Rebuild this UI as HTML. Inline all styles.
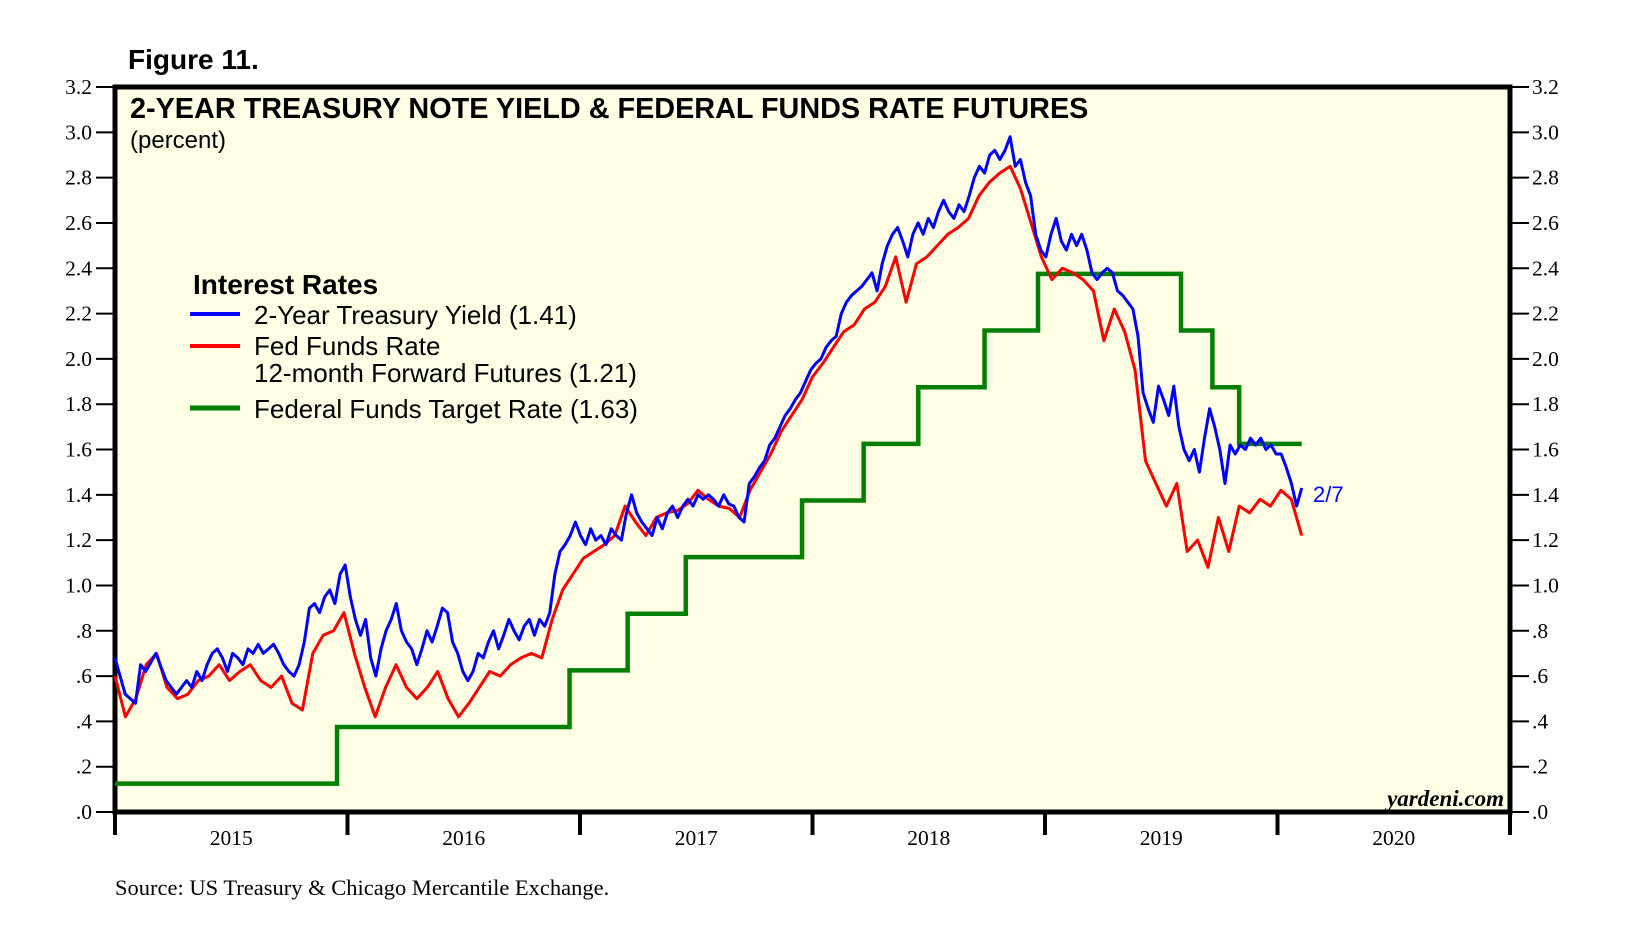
<!DOCTYPE html>
<html><head><meta charset="utf-8"><style>
body{margin:0;background:#fff;}
svg{display:block;}
text{font-family:"Liberation Sans",sans-serif;}
.ser{font-family:"Liberation Serif",serif;}
</style></head><body>
<svg id="chart" width="1626" height="946" xmlns="http://www.w3.org/2000/svg">
<text x="128" y="69" font-size="28" font-weight="bold">Figure 11.</text>
<rect x="115" y="87" width="1395" height="725" fill="#ffffe6" stroke="#000" stroke-width="5"/>
<g id="grid"></g>
<g id="series"></g>
<text x="130" y="118" font-size="28.8" font-weight="bold">2-YEAR TREASURY NOTE YIELD &amp; FEDERAL FUNDS RATE FUTURES</text>
<text x="130" y="148" font-size="24">(percent)</text>
<g>
<text x="193" y="294" font-size="28" font-weight="bold">Interest Rates</text>
<line x1="190" y1="314" x2="240" y2="314" stroke="#0000ff" stroke-width="4"/>
<text x="254" y="324" font-size="26">2-Year Treasury Yield (1.41)</text>
<line x1="190" y1="346" x2="240" y2="346" stroke="#ff0000" stroke-width="4"/>
<text x="254" y="355" font-size="26">Fed Funds Rate</text>
<text x="254" y="382" font-size="26">12-month Forward Futures (1.21)</text>
<line x1="190" y1="408" x2="240" y2="408" stroke="#008000" stroke-width="5"/>
<text x="254" y="418" font-size="26">Federal Funds Target Rate (1.63)</text>
</g>
<text x="1313" y="502" font-size="22" fill="#0000ff">2/7</text>
<text class="ser" x="1504" y="806" font-size="23" font-style="italic" font-weight="bold" text-anchor="end">yardeni.com</text>
<text class="ser" x="115" y="895" font-size="22.5">Source: US Treasury &amp; Chicago Mercantile Exchange.</text>
</svg>
<script>
const yTicks=[0,0.2,0.4,0.6,0.8,1.0,1.2,1.4,1.6,1.8,2.0,2.2,2.4,2.6,2.8,3.0,3.2];
const yTickLabels=[".0",".2",".4",".6",".8","1.0","1.2","1.4","1.6","1.8","2.0","2.2","2.4","2.6","2.8","3.0","3.2"];
const years=[2015,2016,2017,2018,2019,2020];
const seriesStart=2015.0;
const seriesEnd=2020.104;
const blueValues=[.68,.60,.52,.50,.48,.65,.62,.66,.70,.64,.58,.55,.52,.55,.58,.55,.62,.58,.65,.70,.72,.68,.62,.70,.68,.65,.72,.70,.74,.70,.72,.74,.70,.65,.62,.60,.65,.75,.90,.92,.88,.95,.98,.92,1.05,1.09,.95,.85,.78,.85,.68,.60,.72,.80,.85,.92,.80,.75,.72,.65,.72,.80,.75,.82,.90,.88,.75,.70,.62,.58,.62,.70,.68,.75,.80,.72,.78,.85,.80,.76,.82,.85,.78,.85,.82,.88,1.05,1.15,1.18,1.22,1.28,1.22,1.18,1.25,1.20,1.22,1.18,1.25,1.22,1.20,1.32,1.40,1.32,1.28,1.25,1.22,1.30,1.25,1.32,1.35,1.30,1.35,1.38,1.35,1.40,1.38,1.40,1.38,1.35,1.40,1.36,1.35,1.30,1.28,1.45,1.48,1.52,1.55,1.62,1.65,1.70,1.75,1.78,1.82,1.85,1.90,1.95,1.98,2.00,2.05,2.08,2.10,2.20,2.25,2.28,2.30,2.32,2.35,2.38,2.30,2.42,2.50,2.55,2.58,2.52,2.45,2.55,2.60,2.55,2.62,2.58,2.65,2.70,2.65,2.62,2.68,2.65,2.72,2.80,2.85,2.82,2.90,2.92,2.88,2.92,2.98,2.85,2.88,2.78,2.72,2.55,2.48,2.45,2.55,2.62,2.52,2.48,2.55,2.50,2.55,2.48,2.38,2.35,2.38,2.40,2.38,2.30,2.28,2.25,2.22,2.10,1.85,1.78,1.72,1.88,1.82,1.75,1.88,1.70,1.60,1.55,1.60,1.50,1.65,1.78,1.70,1.60,1.45,1.62,1.58,1.62,1.60,1.65,1.62,1.65,1.60,1.62,1.58,1.58,1.52,1.45,1.35,1.43];
const redValues=[.60,.42,.50,.65,.70,.55,.50,.52,.58,.60,.65,.58,.62,.65,.58,.55,.60,.48,.45,.70,.78,.80,.88,.70,.55,.42,.55,.65,.55,.50,.55,.62,.50,.42,.48,.55,.62,.60,.65,.68,.70,.68,.85,.98,1.05,1.12,1.15,1.18,1.22,1.35,1.28,1.22,1.30,1.32,1.33,1.36,1.42,1.38,1.35,1.34,1.30,1.42,1.50,1.58,1.68,1.75,1.82,1.92,1.98,2.05,2.12,2.15,2.22,2.25,2.32,2.45,2.25,2.42,2.45,2.50,2.55,2.58,2.62,2.72,2.78,2.82,2.85,2.75,2.60,2.45,2.35,2.40,2.38,2.35,2.30,2.08,2.22,2.12,1.95,1.55,1.45,1.35,1.45,1.15,1.20,1.08,1.30,1.15,1.35,1.32,1.38,1.35,1.42,1.38,1.22];
const targetDates=[2015.0,2015.955,2016.955,2017.205,2017.455,2017.955,2018.22,2018.455,2018.74,2018.97,2019.585,2019.72,2019.835];
const targetValues=[0.125,0.375,0.625,0.875,1.125,1.375,1.625,1.875,2.125,2.375,2.125,1.875,1.625];
const L=115,R=1510,T=87,B=812;
const x=t=>L+(t-2015)/6*(R-L);
const y=v=>B-v/3.2*(B-T);
const NS="http://www.w3.org/2000/svg";
const grid=document.getElementById('grid');
const ser=document.getElementById('series');
function mk(tag,attrs,parent){const e=document.createElementNS(NS,tag);for(const k in attrs)e.setAttribute(k,attrs[k]);parent.appendChild(e);return e;}
yTicks.forEach((v,i)=>{
  const t1=mk('line',{x1:96,x2:115,y1:y(v),y2:y(v),stroke:'#000','stroke-width':2},grid);
  
  
  const t2=mk('line',{x1:1510,x2:1529,y1:y(v),y2:y(v),stroke:'#000','stroke-width':2},grid);
  
  
  const l1=mk('text',{x:92,y:y(v)+7,'font-size':21.5,'text-anchor':'end',class:'ser'},grid);
  l1.textContent=yTickLabels[i];
  
  
  const l2=mk('text',{x:1532,y:y(v)+7,'font-size':21.5,class:'ser'},grid);
  l2.textContent=yTickLabels[i];
  
  
});
years.concat([2021]).forEach(yr=>{
  const tk=mk('line',{x1:x(yr),x2:x(yr),y1:812,y2:835,stroke:'#000','stroke-width':4},grid);
  
  
});
years.forEach(yr=>{
  const lb=mk('text',{x:x(yr+0.5),y:845,'font-size':21.5,'text-anchor':'middle',class:'ser'},grid);
  lb.textContent=yr;
  
  
});
let d='';
targetValues.forEach((v,i)=>{
  const x0=x(targetDates[i]);
  const x1=x(i+1<targetDates.length?targetDates[i+1]:seriesEnd);
  d+=(i===0?'M':'L')+x0+','+y(v)+'L'+x1+','+y(v);
});
const g=mk('path',{d:d,fill:'none',stroke:'#008000','stroke-width':4.5},ser);


function line(vals,color,name){
  const n=vals.length;
  const pd=vals.map((v,i)=>(i?'L':'M')+x(seriesStart+(seriesEnd-seriesStart)*i/(n-1)).toFixed(1)+','+y(v).toFixed(1)).join('');
  const p=mk('path',{d:pd,fill:'none',stroke:color,'stroke-width':3,'stroke-linejoin':'round'},ser);
  
  
}
line(redValues,'#ff0000','fed-futures-line');
line(blueValues,'#0000ff','treasury-yield-line');
</script>
</body></html>
